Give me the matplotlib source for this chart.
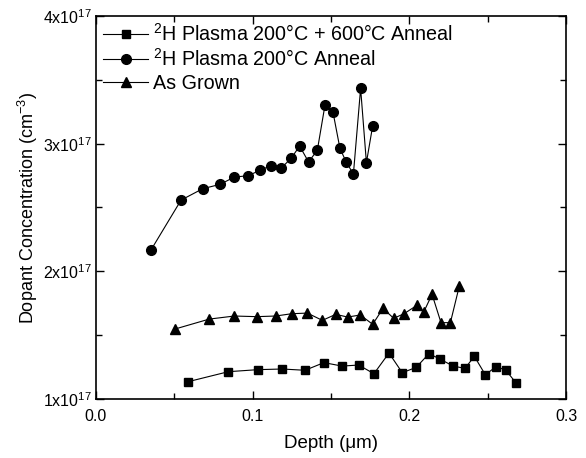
import matplotlib
matplotlib.use("Agg")
import matplotlib.pyplot as plt
from matplotlib.ticker import MultipleLocator, FuncFormatter

plt.rcParams['font.family'] = ['Liberation Sans', 'DejaVu Sans']
plt.rcParams['mathtext.fontset'] = 'custom'
plt.rcParams['mathtext.rm'] = 'Liberation Sans'
plt.rcParams['mathtext.it'] = 'Liberation Sans:italic'

# depth (um) and dopant concentration (units of 1e17 cm^-3)
depth_anneal600 = [0.0589, 0.0845, 0.1034, 0.1189, 0.1334, 0.1455, 0.1570, 0.1677, 0.1774, 0.1870,
                   0.1955, 0.2044, 0.2125, 0.2196, 0.2279, 0.2355, 0.2415, 0.2485, 0.2553, 0.2615, 0.2683]
conc_anneal600 = [1.136, 1.214, 1.230, 1.235, 1.225, 1.285, 1.258, 1.266, 1.198, 1.360,
                  1.206, 1.248, 1.355, 1.313, 1.258, 1.240, 1.334, 1.190, 1.253, 1.227, 1.123]

depth_plasma = [0.0351, 0.0543, 0.0681, 0.0791, 0.0883, 0.0970, 0.1047, 0.1115, 0.1183, 0.1245,
                0.1300, 0.1357, 0.1413, 0.1462, 0.1513, 0.1557, 0.1598, 0.1643, 0.1689, 0.1726, 0.1766]
conc_plasma = [2.167, 2.558, 2.647, 2.681, 2.738, 2.749, 2.791, 2.827, 2.809, 2.885,
               2.981, 2.856, 2.950, 3.305, 3.245, 2.963, 2.854, 2.762, 3.433, 2.851, 3.140]

depth_grown = [0.0504, 0.0723, 0.0883, 0.1026, 0.1147, 0.1249, 0.1349, 0.1445, 0.1530, 0.1606,
               0.1687, 0.1766, 0.1832, 0.1900, 0.1966, 0.2049, 0.2091, 0.2145, 0.2202, 0.2262, 0.2319]
conc_grown = [1.548, 1.626, 1.650, 1.645, 1.650, 1.668, 1.673, 1.616, 1.663, 1.642,
              1.658, 1.585, 1.710, 1.632, 1.668, 1.734, 1.679, 1.820, 1.598, 1.598, 1.885]

labels = [r'$^{2}$H Plasma 200°C + 600°C Anneal',
          r'$^{2}$H Plasma 200°C Anneal',
          'As Grown']

fig = plt.figure(figsize=(5.86, 4.58), dpi=100)
ax = fig.add_axes([0.1638, 0.1288, 0.8021, 0.8363])

scale = 1e17
ax.plot(depth_anneal600, [c * scale for c in conc_anneal600], '-s', color='black',
        lw=0.8, ms=6, label=labels[0])
ax.plot(depth_plasma, [c * scale for c in conc_plasma], '-o', color='black',
        lw=0.8, ms=7, label=labels[1])
ax.plot(depth_grown, [c * scale for c in conc_grown], '-^', color='black',
        lw=0.8, ms=7, label=labels[2])

ax.set_xlim(0.0, 0.3)
ax.set_ylim(1e17, 4e17)
ax.xaxis.set_major_locator(MultipleLocator(0.1))
ax.xaxis.set_minor_locator(MultipleLocator(0.05))
ax.yaxis.set_major_locator(MultipleLocator(1e17))
ax.yaxis.set_minor_locator(MultipleLocator(0.5e17))
ax.xaxis.set_major_formatter(FuncFormatter(lambda v, p: f'{v:.1f}'))
ax.yaxis.set_major_formatter(FuncFormatter(lambda v, p: r'%dx10$^{17}$' % round(v / scale)))

ax.tick_params(which='both', direction='in', top=True, right=True, labelsize=11.5, width=1)
ax.tick_params(axis='x', pad=7)
ax.tick_params(axis='y', pad=3)
ax.tick_params(which='major', length=6)
ax.tick_params(which='minor', length=4)
for s in ax.spines.values():
    s.set_linewidth(1.2)

ax.set_xlabel('Depth (μm)', fontsize=13.5, labelpad=8)
ax.set_ylabel(r'Dopant Concentration (cm$^{-3}$)', fontsize=13, labelpad=2)

ax.legend(loc='upper left', frameon=False, fontsize=14.2, handlelength=2.3,
          handletextpad=0.25, borderaxespad=0.15, labelspacing=0.18, borderpad=0.2)

fig.savefig('out.png', dpi=100)
